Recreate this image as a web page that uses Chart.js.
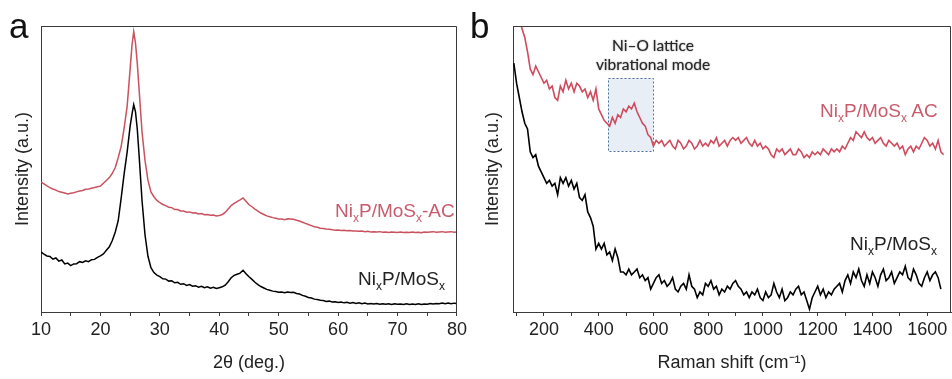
<!DOCTYPE html>
<html>
<head>
<meta charset="utf-8">
<script src="https://cdn.jsdelivr.net/npm/chart.js@4.4.1/dist/chart.umd.min.js"></script>
<style>
  body { margin: 0; background: #fff; }
  #wrap { position: relative; width: 952px; height: 379px; overflow: hidden; font-family: "Liberation Sans", Arial, sans-serif; }
  canvas { position: absolute; top: 0; }
  .lbl { position: absolute; font-size: 19px; line-height: 19px; white-space: nowrap; }
  .lbl sub { font-size: 12px; vertical-align: -5px; line-height: 0; }
  .red { color: #c95c6c; }
  .blk { color: #222; }
  .panel { position: absolute; font-size: 35px; line-height: 35px; color: #111; }
  .note { position: absolute; font-family: Lato, "Open Sans", sans-serif; font-size: 15.5px; line-height: 19px; color: #262626;
          text-align: center; width: 160px; text-shadow: 0 0 1.5px rgba(0,0,0,0.55); }
</style>
</head>
<body>
<div id="wrap">
  <canvas id="chartA" width="470" height="379" style="left:0"></canvas>
  <canvas id="chartB" width="482" height="379" style="left:470px"></canvas>
  <div class="panel" style="left:9px;top:8px">a</div>
  <div class="panel" style="left:470px;top:8px">b</div>
  <div class="lbl red" style="left:335px;top:201px">Ni<sub>x</sub>P/MoS<sub>x</sub>-AC</div>
  <div class="lbl blk" style="left:358px;top:269px">Ni<sub>x</sub>P/MoS<sub>x</sub></div>
  <div class="lbl red" style="left:820px;top:101px">Ni<sub>x</sub>P/MoS<sub>x</sub> AC</div>
  <div class="lbl blk" style="left:850px;top:234px">Ni<sub>x</sub>P/MoS<sub>x</sub></div>
  <div class="note" style="left:573px;top:36px">Ni–O lattice<br>vibrational mode</div>
</div>
<script>
// ---------------- data: XRD (panel a) ----------------
const xrdTicks = [10,15,20,25,30,35,40,45,50,55,60,65,70,75,80];
const twoTheta = [10,10.5,11,11.5,12,12.5,13,13.5,14,14.5,
  15,15.5,16,16.5,17,17.5,18,18.5,19,19.5,
  20,20.5,21,21.5,22,22.5,23,23.5,24,24.5,
  25,25.3,25.6,25.9,26.2,26.5,27,27.5,28,28.5,
  29,29.5,30,30.5,31,31.5,32,32.5,33,33.5,
  34,34.5,35,35.5,36,36.5,37,37.5,38,38.5,
  39,39.5,40,40.5,41,41.5,42,42.5,43,43.5,
  44,44.5,45,45.5,46,46.5,47,47.5,48,48.5,
  49,49.5,50,50.5,51,51.5,52,52.5,53,53.5,
  54,54.5,55,55.5,56,56.5,57,57.5,58,58.5,
  59,59.5,60,60.5,61,61.5,62,62.5,63,63.5,
  64,64.5,65,65.5,66,66.5,67,67.5,68,68.5,
  69,69.5,70,70.5,71,71.5,72,72.5,73,73.5,
  74,74.5,75,75.5,76,76.5,77,77.5,78,78.5,
  79,79.5,80];
const xrdAC = [45.5,44.8,44.1,43.5,43,42.6,42.1,41.9,41.6,41.3,
  41.5,41.7,42,42.3,42.5,42.9,43,43.3,43.5,43.8,
  44,45,46,47,48.5,50.5,54,58,64.5,72,
  85,93,98,94,87,78,63,53,46,42,
  40.3,39,38.2,37.6,37.2,36.6,36.5,35.8,35.8,35.3,
  35.3,34.9,35,34.6,34.7,34.3,34.4,34,34.1,33.8,
  33.9,33.6,33.7,34.1,34.8,36,37.2,38,38.6,39.2,
  39.9,38.7,37.5,36.8,36,35.3,34.6,34.1,33.6,33.3,
  33,32.8,32.5,32.5,32.3,32.6,32.5,32.4,32.1,31.8,
  31.4,31,30.6,30.2,29.8,29.6,29.3,29.2,29,28.9,
  28.8,28.6,28.7,28.5,28.6,28.4,28.5,28.3,28.3,28.2,
  28.3,28.1,28.2,28,28.1,28,28.1,27.9,28,27.8,
  28,27.9,27.8,28,27.8,27.9,27.8,28,27.8,27.9,
  27.7,28,27.9,28,28.1,27.9,28,28.1,27.9,28,
  28.1,27.9,28];
const xrdPristine = [21,20.2,19.6,19.4,18.5,18.9,17.8,18.2,16.8,17.1,
  16.2,16.8,16.9,17.6,17.3,17.9,17.6,18.3,18.4,19.1,
  19.6,20.3,21.6,22.8,25,28,32,40,48.5,56,
  65,69,72.5,70,64,55,39,27,19.5,15.5,
  13.8,12.9,12.4,11.6,11.5,10.8,10.9,10.2,10.4,9.7,
  9.9,9.3,9.6,9,9.2,8.7,9,8.5,8.8,8.3,
  8.6,8.2,8.5,8.8,9.4,10.6,12,12.8,13.2,13.6,
  14.6,13.4,12.3,11.4,10.4,9.6,8.9,8.4,7.9,7.6,
  7.3,7.2,6.9,7,6.7,7,6.8,6.9,6.5,6.3,
  5.8,5.5,5.1,4.9,4.5,4.4,4.1,4,3.7,3.8,
  3.5,3.6,3.3,3.5,3.2,3.4,3.1,3.3,3,3.2,
  2.9,3.1,2.8,3,2.8,3,2.7,2.9,2.7,2.9,
  2.6,2.9,2.7,2.8,2.6,2.9,2.6,2.8,2.6,2.9,
  2.6,2.8,2.7,3,2.8,3,2.9,3.1,2.9,3.1,
  2.9,3.1,3];

// ---------------- data: Raman (panel b) ----------------
const ramanTicks = [100,200,300,400,500,600,700,800,900,1000,1100,1200,1300,1400,1500,1600];
const ramanShift = [90,100,110,120,130,140,150,160,170,180,190,200,210,220,230,240,250,260,270,280,290,300,310,320,330,340,350,360,370,380,
  390,400,410,420,430,440,450,460,470,480,490,500,510,520,530,540,550,560,570,580,590,600,610,620,630,640,650,660,670,680,
  690,700,710,720,730,740,750,760,770,780,790,800,810,820,830,840,850,860,870,880,890,900,910,920,930,940,950,960,970,980,
  990,1000,1010,1020,1030,1040,1050,1060,1070,1080,1090,1100,1110,1120,1130,1140,1150,1160,1170,1180,1190,1200,1210,1220,1230,1240,1250,1260,1270,1280,
  1290,1300,1310,1320,1330,1340,1350,1360,1370,1380,1390,1400,1410,1420,1430,1440,1450,1460,1470,1480,1490,1500,1510,1520,1530,1540,1550,1560,1570,1580,
  1590,1600,1610,1620,1630,1640,1650,1660];
const ramanAC = [112,108,103,99,96,91,85,83,86,84,82,80,81,78,79,75,74,79,77,81,78,80,77,80,79,77,78,75,77,74,
  78,71,69,67,66,65,68,66,69,68,71,70,72,71,73,70,68,66,65,62,61,58,60,59,60,58,59,60,58,57,
  60,59,57,58,60,59,57,58,60,58,59,58,60,59,61,58,59,60,58,60,61,60,61,59,60,61,59,58,60,58,
  59,57,58,57,55,54,57,56,57,55,56,57,55,55,57,56,54,55,54,56,55,56,55,57,56,55,57,56,57,56,
  58,57,59,61,60,63,62,61,63,61,60,61,59,60,61,59,58,60,59,58,59,57,58,55,57,58,56,58,57,59,
  61,60,58,59,57,60,56,55];
const ramanPristine = [87,80,75,70,66,64,56,54,55,51,49,47,45,46,44,45,41,47,45,47,44,46,43,45,40,39,41,35,33,30,
  22,24,22,24,20,21,18,22,19,14,14,13,15,13,14,15,12,13,11,12,8,10,12,13,10,11,9,10,12,8,
  7,9,10,8,13,9,8,5,7,6,10,9,11,8,9,6,8,7,9,8,10,11,9,8,6,7,5,7,6,8,
  5,4,7,5,6,10,7,5,8,4,5,7,6,8,9,6,7,4,1,5,7,9,6,8,5,7,6,8,9,10,
  7,11,13,10,14,12,15,11,9,13,10,14,12,9,13,15,11,12,14,10,12,14,13,16,12,11,15,13,10,9,
  12,14,11,13,14,12,8];

// annotation box for the Ni–O band (data units)
const niOBox = { x0: 434, x1: 598, y0: 56.3, y1: 81.8 };

const RED_LINE = '#cf4b5e';
const AXIS = '#3a3a3a';
const FONT = "'Liberation Sans', Arial, sans-serif";

function pairs(xs, ys) {
  return xs.map((x, i) => ({ x: x, y: ys[i] }));
}

// box around the plot area (top and right sides)
const framePlugin = {
  id: 'frame',
  afterDraw(chart) {
    const a = chart.chartArea, c = chart.ctx;
    c.save();
    c.strokeStyle = AXIS;
    c.lineWidth = 1;
    c.beginPath();
    c.moveTo(Math.round(a.left) + 0.5, Math.round(a.top) + 0.5);
    c.lineTo(Math.round(a.right) - 0.5, Math.round(a.top) + 0.5);
    c.lineTo(Math.round(a.right) - 0.5, Math.round(a.bottom) + 0.5);
    c.stroke();
    c.restore();
  }
};

const boxPlugin = {
  id: 'niobox',
  beforeDatasetsDraw(chart) {
    const xs = chart.scales.x, ys = chart.scales.y, c = chart.ctx;
    const l = xs.getPixelForValue(niOBox.x0), r = xs.getPixelForValue(niOBox.x1);
    const t = ys.getPixelForValue(niOBox.y1), b = ys.getPixelForValue(niOBox.y0);
    c.save();
    c.fillStyle = '#e8eef5';
    c.fillRect(l, t, r - l, b - t);
    c.setLineDash([2, 2]);
    c.strokeStyle = '#4d6e9e';
    c.lineWidth = 1;
    c.strokeRect(Math.round(l) + 0.5, Math.round(t) + 0.5, Math.round(r - l), Math.round(b - t));
    c.restore();
  }
};

function makeOptions(xMin, xMax, tickValues, labelEvery, xTitle, yWidth, padRight) {
  return {
    responsive: false,
    animation: false,
    layout: { padding: { top: 26, right: padRight, left: 0, bottom: 0 } },
    plugins: { legend: { display: false }, tooltip: { enabled: false } },
    elements: { point: { radius: 0 }, line: { tension: 0 } },
    scales: {
      x: {
        type: 'linear', min: xMin, max: xMax,
        afterBuildTicks: s => { s.ticks = tickValues.map(v => ({ value: v })); },
        ticks: {
          autoSkip: false, maxRotation: 0, padding: 3,
          color: '#222', font: { family: FONT, size: 18 },
          callback: v => (v % labelEvery === 0 ? String(v) : '')
        },
        grid: { drawOnChartArea: false, tickLength: 4, tickColor: AXIS },
        border: { color: AXIS, width: 1 },
        title: { display: true, text: xTitle, color: '#222', font: { family: FONT, size: 18 }, padding: { top: 0, bottom: 5 } },
        afterFit: s => { s.height = 67; }
      },
      y: {
        min: 0, max: 100,
        ticks: { display: false },
        grid: { drawOnChartArea: false, drawTicks: false },
        border: { color: AXIS, width: 1 },
        title: { display: true, text: 'Intensity (a.u.)', color: '#222', font: { family: FONT, size: 18 }, padding: { top: 12, bottom: 0 } },
        afterFit: s => { s.width = yWidth; }
      }
    }
  };
}

new Chart(document.getElementById('chartA'), {
  type: 'line',
  data: {
    datasets: [
      { data: pairs(twoTheta, xrdAC), borderColor: '#c9525f', borderWidth: 1.5 },
      { data: pairs(twoTheta, xrdPristine), borderColor: '#000', borderWidth: 1.5 }
    ]
  },
  options: makeOptions(10, 80, xrdTicks, 10, '2θ (deg.)', 41, 12),
  plugins: [framePlugin]
});

new Chart(document.getElementById('chartB'), {
  type: 'line',
  data: {
    datasets: [
      { data: pairs(ramanShift, ramanAC), borderColor: RED_LINE, borderWidth: 1.6 },
      { data: pairs(ramanShift, ramanPristine), borderColor: '#000', borderWidth: 1.6 }
    ]
  },
  options: makeOptions(87, 1687, ramanTicks, 200, 'Raman shift (cm⁻¹)', 43, 1),
  plugins: [boxPlugin, framePlugin]
});
</script>
</body>
</html>
